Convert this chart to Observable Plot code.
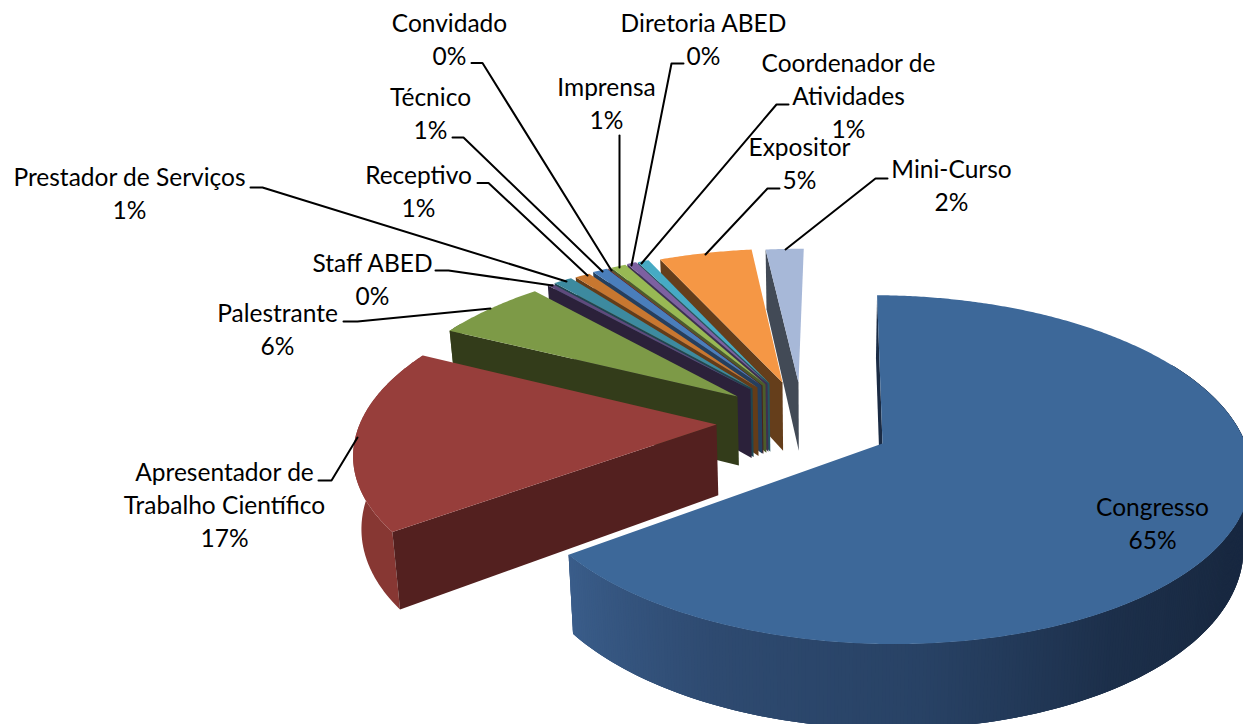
<!DOCTYPE html>
<html><head><meta charset="utf-8">
<style>html,body{margin:0;padding:0;background:#fff;overflow:hidden}svg{display:block}</style>
<script src="https://cdn.jsdelivr.net/npm/d3@7"></script>
<script src="https://cdn.jsdelivr.net/npm/@observablehq/plot@0.6"></script>
</head><body><div id="chart"></div>
<script>
// Data
const categories = ["Congresso","Apresentador de Trabalho Científico","Palestrante","Staff ABED","Prestador de Serviços","Receptivo","Técnico","Convidado","Imprensa","Diretoria ABED","Coordenador de Atividades","Expositor","Mini-Curso"];
const values = [64.7,17.5,5.98,0.3,1.0,0.8,0.8,0.05,0.8,0.5,0.6,4.95,2.02];
const percentLabels = ["65%","17%","6%","0%","1%","1%","1%","0%","1%","0%","1%","5%","2%"];
const topColors = ["#3d6899","#973e3b","#7d9a47","#5f4a7c","#3d8a9f","#c87730","#4a7ebb","#8c3a37","#98b954","#7d60a0","#46aac4","#f59745","#a7b8d8"];
const radialWallColors = ["#1a2b44","#53201f","#333c1a","#2b213a","#1e4550","#643c18","#253f5e","#4a1e1c","#4c5c2a","#3e3050","#235562","#653e1b","#424a56"];
const outerWallColors = ["#2a4468","#873733","#4c5c2a","#3e3050","#235562","#8a5220","#253f5e","#4a1e1c","#4c5c2a","#3e3050","#235562","#a8652c","#6f7c92"];
const congressRamp = ["#182840","#182840","#1c2f4a","#284265","#2e4a70","#3a5d8a"];

// Layout of the exploded pie (pixels of the reference)
const apexX = [882,716,737,750,752,757,761,762,765,767,769,782,798];
const apexY = [443,424,396,389,388,387,385,385,384,383,383,382,382];
const model = {x0:815,y0:443,R:363,Ry:170.5,k:0.15,h:72,m:0.018,rotation:0.6};
const labelLines = [["Congresso"],["Apresentador de","Trabalho Científico"],["Palestrante"],["Staff ABED"],["Prestador de Serviços"],["Receptivo"],["Técnico"],["Convidado"],["Imprensa"],["Diretoria ABED"],["Coordenador de","Atividades"],["Expositor"],["Mini-Curso"]];
const labelX = [1152,224,277,372,129,418,430,449,606,703,848,799,951];
const labelY = [508,473,314,264,178,176,98,24,88,24,64,148,170];
const lineStep = 33;
const leaders = [
 null,
 [[318,480],[331,480],[357,437]],
 [[343,321],[357,321],[490,308]],
 [[435,270],[448,270],[552,285]],
 [[250,187],[262,187],[566,281]],
 [[477,182.5],[488,182.5],[587,275]],
 [[452,137],[463,137],[602,271]],
 [[471,62.5],[482,62.5],[611,270]],
 [[619,135],[619,267]],
 [[683,63],[671,63],[631,265]],
 [[788,104],[776,104],[641,263]],
 [[779,188],[767,188],[705,254]],
 [[887,178],[875,178],[785,249]]
];

// Projection
const {x0,y0,R,Ry,k,h,m,rotation} = model;
function project(X,Y,Z){
  const p = 1/(1-k*Y), q = 1-m*Z;
  return {x:x0+R*X*p*q, y:y0+Ry*Y*p+h*Z*p};
}
function ground(ax,ay){
  const d = ay-y0, Y = d/(Ry+k*d), p = 1/(1-k*Y);
  return {X:(ax-x0)/(R*p), Y};
}
const total = d3.sum(values);
const DEG = Math.PI/180;
const polys = [];
let nid = 0;
function addPoly(pts,color){ const id = nid++; pts.forEach(q=>polys.push({x:q.x,y:q.y,id,color})); }

const slices = [];
let acc = 0;
values.forEach((v,i)=>{
  const a1 = rotation*DEG + acc/total*2*Math.PI; acc += v;
  const a2 = rotation*DEG + acc/total*2*Math.PI;
  slices.push({i,a1,a2,g:ground(apexX[i],apexY[i])});
});
const rampFn = d3.piecewise(d3.interpolateRgb, congressRamp);
function rim(s,a,Z){ return project(s.g.X+Math.sin(a), s.g.Y-Math.cos(a), Z); }
// painter's order: last slice (far right of the fan) first, Congresso last
[...slices].reverse().forEach(s=>{
  const {i,a1,a2,g} = s;
  const steps = Math.max(2,Math.ceil((a2-a1)/(DEG/2)));
  const A = d3.range(steps+1).map(j=>a1+(a2-a1)*j/steps);
  const near = A.filter(a=>-Math.cos(a) >= -0.5);
  if(near.length>1){
    if(i===0){
      // shaded outer wall: overlapping strips so no background shows between them
      for(let j=0;j<near.length-1;j++){
        const a=near[j], b=Math.min(near[near.length-1],near[j+1]+DEG);
        const t=Math.min(1,Math.max(0,(near[j]-90*DEG)/(a2-90*DEG)));
        addPoly([rim(s,a,0),rim(s,b,0),rim(s,b,1),rim(s,a,1)],rampFn(t));
      }
    } else {
      addPoly([...near.map(a=>rim(s,a,0)),...near.slice().reverse().map(a=>rim(s,a,1))],outerWallColors[i]);
    }
  }
  // radial wall on the leading edge
  addPoly([project(g.X,g.Y,0),rim(s,a1,0),rim(s,a1,1),project(g.X,g.Y,1)],radialWallColors[i]);
  // top face
  addPoly([project(g.X,g.Y,0),...A.map(a=>rim(s,a,0))],topColors[i]);
});

const textRows = [];
labelLines.forEach((ls,i)=>{
  ls.concat(percentLabels[i]).forEach((t,j)=>textRows.push({t,x:labelX[i],y:labelY[i]+j*lineStep}));
});
const leaderRows = leaders.flatMap((l,i)=>l?l.map(([x,y])=>({x,y,i})):[]);

const plot = Plot.plot({
  width:1243,height:724,margin:0,
  x:{domain:[0,1243],range:[0,1243],axis:null},
  y:{domain:[0,724],range:[0,724],axis:null},
  color:{type:"identity"},
  marks:[
    Plot.line(polys,{x:"x",y:"y",z:"id",fill:"color",stroke:"none",curve:"linear-closed"}),
    Plot.line(leaderRows,{x:"x",y:"y",z:"i",stroke:"#000",strokeWidth:2,curve:"linear"}),
    Plot.text(textRows,{x:"x",y:"y",text:"t",fill:"#000",fontSize:24.5,fontFamily:"Lato",textAnchor:"middle",lineAnchor:"middle"})
  ]
});
plot.style.background="#fff";
document.getElementById("chart").append(plot);
</script></body></html>
